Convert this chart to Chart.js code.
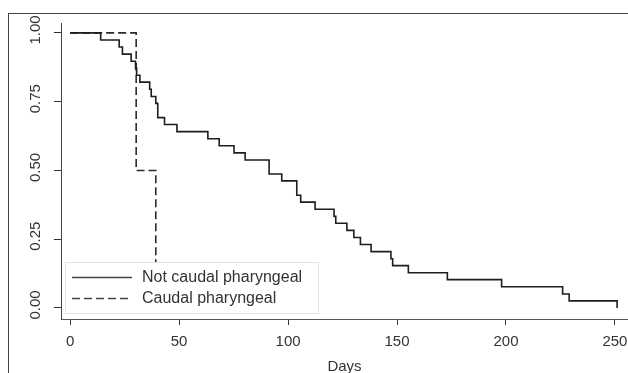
<!DOCTYPE html>
<html>
<head>
<meta charset="utf-8">
<script src="https://cdn.jsdelivr.net/npm/chart.js@4"></script>
<style>
  html, body { margin: 0; padding: 0; background: #fff; }
  #wrap { position: relative; width: 628px; height: 373px; }
  #frame {
    position: absolute; left: 8px; top: 13px; right: 0; bottom: 0;
    border-left: 1px solid #444; border-top: 1px solid #444;
    pointer-events: none;
  }
</style>
</head>
<body>
<div id="wrap">
  <canvas id="km" width="628" height="373"></canvas>
  <div id="frame"></div>
</div>
<script>
// Kaplan-Meier estimates
const notCaudalDays = [0, 14, 22.5, 24, 28, 30, 30.5, 32, 36.5, 37.2, 39.3, 40.2, 43.3, 49,
  63.2, 68.4, 75.2, 80.3, 91.3, 97.1, 104, 105.8, 112.4, 121.1, 121.9, 127, 130.2,
  133.2, 138.1, 147.2, 148, 155.2, 173.1, 198, 226, 229, 251];
const notCaudalSurv = [1.000, 0.974, 0.949, 0.923, 0.897, 0.872, 0.846, 0.821, 0.795, 0.769,
  0.744, 0.692, 0.667, 0.641, 0.615, 0.590, 0.564, 0.538, 0.487, 0.462, 0.410, 0.385,
  0.359, 0.333, 0.308, 0.282, 0.256, 0.231, 0.205, 0.179, 0.154, 0.128, 0.103, 0.077,
  0.051, 0.026, 0.000];
const caudalDays = [0, 30.3, 39.3];
const caudalSurv = [1.0, 0.5, 0.0];

const xTicks = [0, 50, 100, 150, 200, 250];
const yTicks = [0, 0.25, 0.5, 0.75, 1];
const legendLabels = ["Not caudal pharyngeal", "Caudal pharyngeal"];

const FONT = "'Liberation Sans', Arial, sans-serif";
const ink = "#333";

function toPoints(xs, ys) {
  return xs.map((x, i) => ({ x: x, y: ys[i] }));
}

// legend drawn on top of the curves, with a white box
const legendBox = {
  id: "legendBox",
  afterDatasetsDraw(chart) {
    const ctx = chart.ctx;
    ctx.save();
    ctx.fillStyle = "#fff";
    ctx.fillRect(65, 262, 253, 51);
    ctx.strokeStyle = "#e2e2e2";
    ctx.lineWidth = 1;
    ctx.strokeRect(65.5, 262.5, 253, 51);
    const rows = [277.5, 298.5];
    chart.data.datasets.forEach((ds, i) => {
      ctx.strokeStyle = "#444";
      ctx.lineWidth = 1.5;
      ctx.setLineDash(ds.borderDash || []);
      ctx.beginPath();
      ctx.moveTo(72, rows[i]);
      ctx.lineTo(132, rows[i]);
      ctx.stroke();
      ctx.setLineDash([]);
      ctx.fillStyle = ink;
      ctx.font = "16px " + FONT;
      ctx.textBaseline = "middle";
      ctx.fillText(legendLabels[i], 142, rows[i]);
    });
    ctx.restore();
  }
};

new Chart(document.getElementById("km"), {
  type: "line",
  data: {
    datasets: [
      {
        label: legendLabels[0],
        data: toPoints(notCaudalDays, notCaudalSurv),
        borderColor: "#1e1e1e",
        borderWidth: 1.6,
        stepped: true,
        pointRadius: 0,
        fill: false,
      },
      {
        label: legendLabels[1],
        data: toPoints(caudalDays, caudalSurv),
        borderColor: "#2a2a2a",
        borderWidth: 1.6,
        borderDash: [8, 4],
        stepped: true,
        pointRadius: 0,
        fill: false,
      },
    ],
  },
  options: {
    responsive: false,
    animation: false,
    devicePixelRatio: 1,
    layout: { padding: { top: 23, right: 0, left: 0, bottom: 0 } },
    plugins: {
      legend: { display: false },
      tooltip: { enabled: false },
    },
    scales: {
      x: {
        type: "linear",
        min: -4.2,
        max: 256,
        afterBuildTicks: (ax) => { ax.ticks = xTicks.map((v) => ({ value: v })); },
        afterFit: (s) => { s.height = 54; s.paddingLeft = 0; s.paddingRight = 0; },
        grid: { drawOnChartArea: false, drawTicks: true, tickLength: 6, color: "#333" },
        border: { display: true, color: "#555", width: 1 },
        ticks: { font: { family: FONT, size: 15 }, color: ink, padding: 8, maxRotation: 0 },
        title: {
          display: true,
          text: "Days",
          font: { family: FONT, size: 15 },
          color: ink,
          padding: { top: 0, bottom: -3 },
        },
      },
      y: {
        type: "linear",
        min: -0.04,
        max: 1.036,
        afterBuildTicks: (ax) => { ax.ticks = yTicks.map((v) => ({ value: v })); },
        afterFit: (s) => { s.width = 61; s.paddingTop = 0; s.paddingBottom = 0; },
        grid: { drawOnChartArea: false, drawTicks: true, tickLength: 7, color: "#333" },
        border: { display: true, color: "#444", width: 1 },
        ticks: {
          font: { family: FONT, size: 15 },
          color: ink,
          minRotation: 90,
          maxRotation: 90,
          crossAlign: "center",
          padding: 4,
          labelOffset: -3,
          callback: (v) => v.toFixed(2),
        },
      },
    },
  },
  plugins: [legendBox],
});
</script>
</body>
</html>
